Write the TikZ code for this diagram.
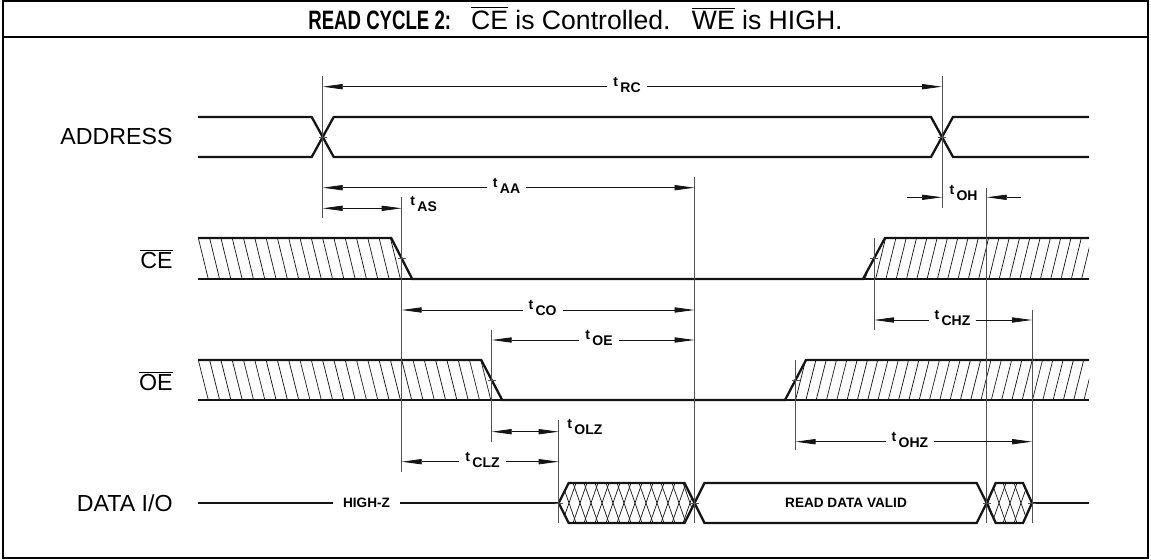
\documentclass[tikz,border=0pt]{standalone}
\usepackage{fontspec}
\setmainfont{Liberation Sans}
\usepackage{tikz}
\usetikzlibrary{arrows.meta}
\definecolor{mydark}{RGB}{20,20,20}
\definecolor{myguide}{RGB}{80,80,80}
\tikzset{
  sig/.style={line width=1.15pt, color=mydark, line join=miter},
  hatch/.style={line width=0.35pt, color=mydark},
  guide/.style={line width=0.45pt, color=myguide},
  tick/.style={line width=0.4pt, color=myguide},
  dim/.style={line width=0.4pt, color=mydark,
    {Triangle[length=10pt,width=2.6pt]}-{Triangle[length=10pt,width=2.6pt]}},
  arr/.style={line width=0.4pt, color=mydark, -{Triangle[length=10pt,width=2.6pt]}},
  siglab/.style={anchor=east, inner sep=0pt, font=\fontsize{11.6}{13}\selectfont},
  tname/.style={inner xsep=3pt, inner ysep=1pt, font=\fontsize{7}{8}\selectfont\bfseries},
  datalab/.style={inner sep=0pt, font=\fontsize{6.8}{8}\selectfont\bfseries}
}
\newcommand{\tsub}[1]{t\,\raisebox{-3pt}{#1}}
\newcommand{\ovl}[1]{$\overline{\mbox{#1}}$}
\def\xA{322.7}
\def\xB{942}
\def\xC{401.7}
\def\xD{694.5}
\def\xE{491.7}
\def\xF{558.7}
\def\xG{874}
\def\xH{795.5}
\def\xI{986.7}
\def\xJ{1032}

\begin{document}
\begin{tikzpicture}[x=0.5pt, y=-0.5pt]
  \useasboundingbox (0,0) rectangle (1151,560);
  \draw[line width=0.6pt] (3,1) rectangle (1148,558);
  \draw[line width=1.4pt] (3,37) -- (1148,37);
  \node[inner sep=0pt, font=\fontsize{13.3}{15}\selectfont] (title) at (575.5,18)
    {\scalebox{0.7}[1]{\bfseries READ CYCLE 2:}\hspace{0.75em}\ovl{CE} is Controlled.\hspace{0.8em}\ovl{WE} is HIGH.};

  \node[siglab] (addr) at (173,137) {ADDRESS};
  \node[siglab] (ce) at (173,259) {\ovl{CE}};
  \node[siglab] (oe) at (173,381) {\ovl{OE}};
  \node[siglab] (dio) at (173,503) {DATA I/O};

  \draw[sig] (198,117) -- (\xA-11,117) -- (\xA+11,157) -- (\xB-11,157) -- (\xB+11,117) -- (1089,117);
  \draw[sig] (198,157) -- (\xA-11,157) -- (\xA+11,117) -- (\xB-11,117) -- (\xB+11,157) -- (1089,157);

  \begin{scope}
    \clip (198,238) -- (\xC-10.5,238) -- (\xC+10.5,279) -- (198,279) -- cycle;
    \foreach \x in {187,198.3,...,420} \draw[hatch] (\x,238) -- (\x+10,279);
  \end{scope}
  \begin{scope}
    \clip (\xG-11,279) -- (\xG+11,238) -- (1089,238) -- (1089,279) -- cycle;
    \foreach \x in {855,865.3,...,1100} \draw[hatch] (\x+10,238) -- (\x,279);
  \end{scope}
  \draw[sig] (198,238) -- (\xC-10.5,238) -- (\xC+10.5,279) -- (\xG-11,279) -- (\xG+11,238) -- (1089,238);
  \draw[sig] (198,279) -- (1089,279);

  \begin{scope}
    \clip (198,360) -- (\xE-10.5,360) -- (\xE+10.5,400) -- (198,400) -- cycle;
    \foreach \x in {187,198.3,...,510} \draw[hatch] (\x,360) -- (\x+10,400);
  \end{scope}
  \begin{scope}
    \clip (\xH-10.5,400) -- (\xH+10.5,360) -- (1089,360) -- (1089,400) -- cycle;
    \foreach \x in {775,785.3,...,1100} \draw[hatch] (\x+10,360) -- (\x,400);
  \end{scope}
  \draw[sig] (198,360) -- (\xE-10.5,360) -- (\xE+10.5,400) -- (\xH-10.5,400) -- (\xH+10.5,360) -- (1089,360);
  \draw[sig] (198,400) -- (1089,400);

  \node[datalab] (hiz) at (366.5,503) {HIGH-Z};
  \draw[sig] (198,503) -- (333,503);
  \draw[sig] (400,503) -- (\xF,503);
  \begin{scope}
    \clip (\xF,503) -- (\xF+10,483) -- (\xD-10,483) -- (\xD,503) -- (\xD-10,523) -- (\xF+10,523) -- cycle;
    \foreach \x in {540,551,...,700} {
      \draw[hatch] (\x,483) -- (\x+14,523);
      \draw[hatch] (\x+14,483) -- (\x,523);
    }
  \end{scope}
  \draw[sig] (\xF,503) -- (\xF+10,483) -- (\xD-10,483) -- (\xD,503) -- (\xD-10,523) -- (\xF+10,523) -- cycle;
  \draw[sig] (\xD,503) -- (\xD+10,483) -- (\xI-10,483) -- (\xI,503) -- (\xI-10,523) -- (\xD+10,523) -- cycle;
  \node[datalab] (valid) at (846,503) {READ DATA VALID};
  \begin{scope}
    \clip (\xI,503) -- (\xI+9,483) -- (\xJ-9,483) -- (\xJ,503) -- (\xJ-9,523) -- (\xI+9,523) -- cycle;
    \foreach \x in {970,981,...,1040} {
      \draw[hatch] (\x,483) -- (\x+14,523);
      \draw[hatch] (\x+14,483) -- (\x,523);
    }
  \end{scope}
  \draw[sig] (\xI,503) -- (\xI+9,483) -- (\xJ-9,483) -- (\xJ,503) -- (\xJ-9,523) -- (\xI+9,523) -- cycle;
  \draw[sig] (\xJ,503) -- (1089,503);

  \draw[guide] (\xA,76) -- (\xA,218);
  \draw[guide] (\xB,76) -- (\xB,208);
  \draw[guide] (\xD,177) -- (\xD,523);
  \draw[guide] (\xC,197) -- (\xC,472);
  \draw[guide] (\xE,330) -- (\xE,442);
  \draw[guide] (\xF,420) -- (\xF,523);
  \draw[guide] (\xI,188) -- (\xI,523);
  \draw[guide] (\xJ,310) -- (\xJ,523);
  \draw[guide] (\xG,238) -- (\xG,330);
  \draw[guide] (\xH,360) -- (\xH,450);
  \foreach \x/\y in {\xA/137,\xB/137,\xC/258.5,\xG/258.5,\xE/380,\xH/380,\xF/503,\xD/503,\xI/503,\xJ/503}
    \draw[tick] (\x-4,\y) -- (\x+4,\y);

  \draw[dim] (\xA,86.7) -- (\xB,86.7);
  \node[tname, fill=white, anchor=base] (lrc) at (627,86.7) {\tsub{RC}};
  \draw[dim] (\xA,187.7) -- (\xD,187.7);
  \node[tname, fill=white, anchor=base] (laa) at (506.5,187.7) {\tsub{AA}};
  \draw[dim] (\xA,208.3) -- (\xC,208.3);
  \node[tname, anchor=base west] (las) at (404,206) {\tsub{AS}};
  \draw[arr] (907,197.3) -- (\xB,197.3);
  \draw[arr] (1020.6,197.3) -- (\xI,197.3);
  \node[tname, anchor=base] (loh) at (963.5,195) {\tsub{OH}};
  \draw[dim] (\xC,310) -- (\xD,310);
  \node[tname, fill=white, anchor=base] (lco) at (542.5,310) {\tsub{CO}};
  \draw[dim] (\xE,340) -- (\xD,340);
  \node[tname, fill=white, anchor=base] (loe) at (599,340) {\tsub{OE}};
  \draw[dim] (\xG,320) -- (\xJ,320);
  \node[tname, fill=white, anchor=base] (lchz) at (952.5,320) {\tsub{CHZ}};
  \draw[dim] (\xE,431.7) -- (\xF,431.7);
  \node[tname, anchor=base west] (lolz) at (561,429) {\tsub{OLZ}};
  \draw[dim] (\xH,441.7) -- (\xJ,441.7);
  \node[tname, fill=white, anchor=base] (lohz) at (910,441.7) {\tsub{OHZ}};
  \draw[dim] (\xC,461.7) -- (\xF,461.7);
  \node[tname, fill=white, anchor=base] (lclz) at (482.5,461.7) {\tsub{CLZ}};
\end{tikzpicture}
\end{document}
